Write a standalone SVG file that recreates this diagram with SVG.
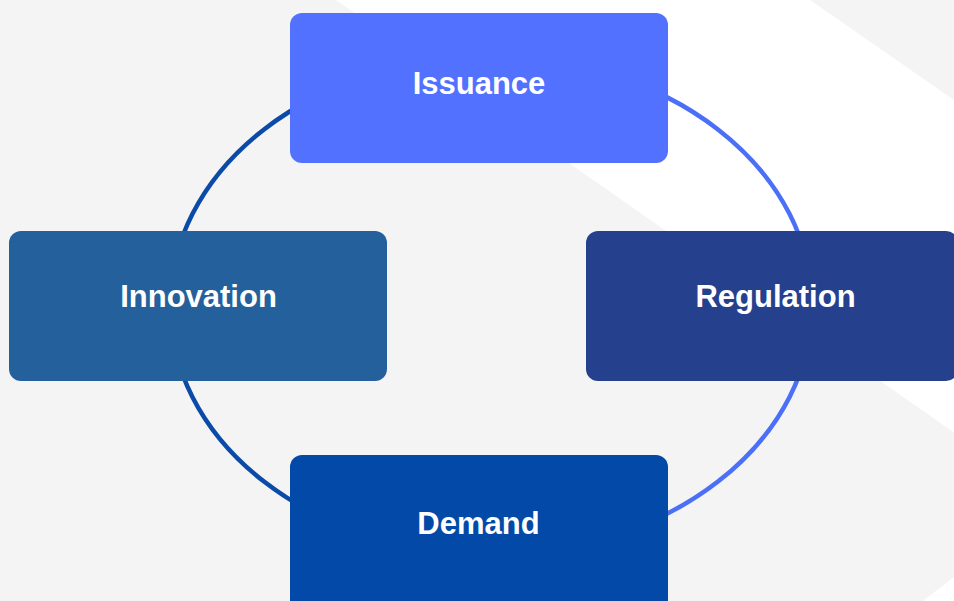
<svg xmlns="http://www.w3.org/2000/svg" width="954" height="601" viewBox="0 0 954 601">
  <style>
    .box { stroke: none; }
    .label { font-family: "Liberation Sans", Arial, sans-serif; font-weight: bold; font-size: 31px; fill: #ffffff; text-anchor: middle; }
    .arc { fill: none; stroke-width: 4.5; }
    .arc-dark { stroke: #0a4aa8; }
    .arc-light { stroke: #4c6ff8; }
  </style>

  <!-- backdrop -->
  <rect x="0" y="0" width="954" height="601" fill="#f4f4f4"/>
  <!-- white chevron band -->
  <polygon points="336,0 810,0 1300,340 1300,700 795,700 1052,501" fill="#ffffff"/>

  <!-- ring connectors (ellipse split into four arcs) -->
  <g id="connectors">
    <path class="arc arc-dark" d="M491,56.5 A321,249 0 0 0 170,305.5"/>
    <path class="arc arc-dark" d="M170,305.5 A321,249 0 0 0 491,554.5"/>
    <path class="arc arc-light" d="M491,56.5 A321,249 0 0 1 812,305.5"/>
    <path class="arc arc-light" d="M812,305.5 A321,249 0 0 1 491,554.5"/>
  </g>

  <g id="issuance">
    <rect class="box" x="290" y="13" width="378" height="150" rx="12" fill="#5271ff"/>
    <text class="label" x="479" y="93.5">Issuance</text>
  </g>

  <g id="innovation">
    <rect class="box" x="9" y="231" width="378" height="150" rx="12" fill="#23609c"/>
    <text class="label" x="198.5" y="306.5">Innovation</text>
  </g>

  <g id="regulation">
    <rect class="box" x="586" y="231" width="372" height="150" rx="12" fill="#25418e"/>
    <text class="label" x="775.5" y="306.5">Regulation</text>
  </g>

  <g id="demand">
    <rect class="box" x="290" y="455" width="378" height="160" rx="12" fill="#0349a7"/>
    <text class="label" x="478.5" y="533.5">Demand</text>
  </g>
</svg>
